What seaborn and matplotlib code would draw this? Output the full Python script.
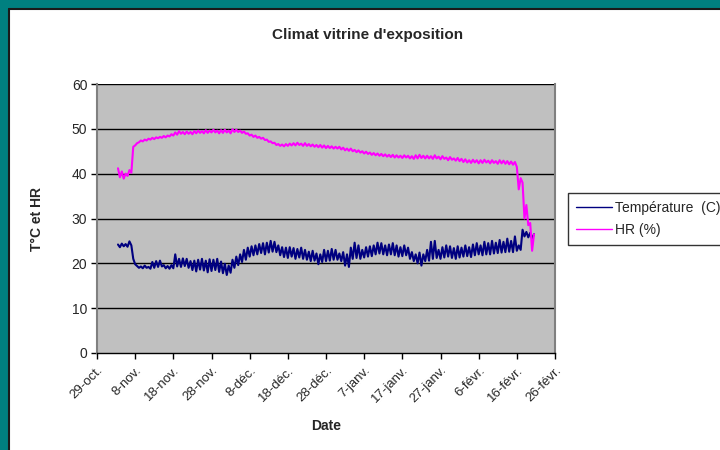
import numpy as np
import pandas as pd
import matplotlib
matplotlib.use("Agg")
import matplotlib.pyplot as plt
from matplotlib.patches import Rectangle
from matplotlib.lines import Line2D
import seaborn as sns

# ---------------- data ----------------
title = "Climat vitrine d'exposition"
series_names = ["Température  (C)", "HR (%)"]
start_time = "2006-11-03 12:00"   # first reading, then every 12 h
tick_labels = ["29-oct.", "8-nov.", "18-nov.", "28-nov.", "8-déc.", "18-déc.",
               "28-déc.", "7-janv.", "17-janv.", "27-janv.", "6-févr.",
               "16-févr.", "26-févr."]
tick_dates = ["2006-10-29", "2006-11-08", "2006-11-18", "2006-11-28",
              "2006-12-08", "2006-12-18", "2006-12-28", "2007-01-07",
              "2007-01-17", "2007-01-27", "2007-02-06", "2007-02-16",
              "2007-02-26"]

temperature = [
    24.2, 23.6, 24.4, 23.8, 24.3, 23.7, 24.9, 24.0, 21.0, 19.8,
    19.4, 19.0, 19.3, 18.9, 19.5, 19.0, 19.2, 18.8, 20.3, 19.0,
    20.5, 19.2, 20.6, 19.3, 19.6, 18.9, 19.4, 18.8, 19.6, 18.9,
    22.0, 19.3, 21.0, 19.2, 21.1, 19.4, 21.0, 19.0, 20.5, 18.5,
    20.6, 18.2, 20.8, 18.6, 21.0, 18.4, 20.6, 18.0, 20.9, 18.3,
    20.8, 18.5, 21.0, 18.1, 20.4, 17.8, 19.9, 17.4, 19.5, 17.9,
    20.8, 19.0, 21.5, 19.6, 22.0, 20.3, 23.0, 20.8, 23.5, 21.5,
    23.8, 21.8, 24.0, 22.0, 24.3, 22.3, 24.5, 22.0, 24.6, 22.4,
    25.0, 22.6, 24.8, 22.5, 24.0, 21.8, 23.6, 21.4, 23.5, 21.2,
    23.6, 21.5, 23.4, 21.0, 23.2, 21.3, 23.5, 21.0, 23.0, 20.8,
    22.6, 20.5, 22.8, 20.6, 22.2, 19.8, 22.0, 20.3, 23.0, 20.5,
    22.8, 20.6, 23.2, 20.8, 23.0, 20.8, 22.2, 20.5, 22.5, 19.5,
    22.0, 19.2, 23.5, 21.0, 24.6, 21.2, 24.0, 21.0, 23.0, 21.3,
    23.6, 21.5, 23.8, 21.6, 24.0, 22.0, 24.6, 22.2, 24.5, 22.0,
    24.0, 21.8, 24.2, 22.0, 24.5, 21.8, 24.0, 21.5, 23.6, 21.6,
    24.0, 21.8, 23.5, 21.0, 22.5, 20.5, 22.0, 20.0, 22.4, 19.5,
    22.0, 20.5, 23.0, 20.6, 24.8, 21.0, 25.0, 21.2, 23.0, 21.0,
    23.6, 21.3, 24.0, 21.5, 23.8, 21.2, 23.4, 21.0, 23.8, 21.3,
    23.5, 21.5, 24.0, 21.6, 23.6, 21.4, 24.2, 21.8, 24.5, 22.0,
    24.0, 21.8, 24.8, 22.0, 24.5, 22.0, 25.0, 22.2, 24.6, 22.3,
    25.2, 22.4, 24.8, 22.5, 25.5, 22.6, 25.0, 22.5, 26.0, 22.8,
    24.0, 23.0, 27.5, 26.0, 27.0, 25.8, 26.8, 25.5, 26.5,
]

humidity = [
    41.2, 39.2, 40.5, 38.9, 40.0, 39.5, 40.8, 40.2, 46.0, 46.3,
    46.8, 47.0, 47.4, 47.2, 47.6, 47.4, 47.8, 47.6, 48.0, 47.7,
    48.1, 47.9, 48.2, 48.0, 48.4, 48.1, 48.5, 48.3, 48.8, 48.5,
    49.2, 48.7, 49.5, 48.9, 49.3, 48.8, 49.4, 48.9, 49.3, 48.8,
    49.5, 49.0, 49.6, 49.1, 49.5, 49.0, 49.7, 49.1, 49.6, 49.2,
    49.8, 49.2, 49.6, 49.0, 49.7, 49.1, 49.8, 49.2, 49.6, 49.0,
    49.9, 49.3, 49.8, 49.3, 49.6, 49.1, 49.4, 48.9, 49.0, 48.5,
    48.7, 48.2, 48.5, 48.0, 48.2, 47.8, 48.0, 47.5, 47.6, 47.1,
    47.2, 46.8, 46.9, 46.4, 46.6, 46.2, 46.5, 46.1, 46.6, 46.2,
    46.7, 46.3, 46.8, 46.3, 46.9, 46.4, 46.7, 46.2, 46.8, 46.2,
    46.6, 46.1, 46.5, 46.0, 46.4, 45.9, 46.4, 45.8, 46.3, 45.7,
    46.2, 45.7, 46.1, 45.6, 46.0, 45.6, 46.0, 45.4, 45.8, 45.2,
    45.6, 45.1, 45.6, 45.0, 45.3, 44.8, 45.2, 44.7, 45.0, 44.5,
    44.9, 44.4, 44.7, 44.2, 44.6, 44.1, 44.5, 44.0, 44.4, 43.9,
    44.3, 43.8, 44.2, 43.7, 44.2, 43.6, 44.1, 43.6, 44.0, 43.5,
    44.1, 43.6, 44.0, 43.4, 43.9, 43.3, 44.1, 43.4, 44.2, 43.5,
    44.0, 43.4, 44.0, 43.4, 43.9, 43.3, 44.1, 43.4, 43.8, 43.2,
    43.9, 43.3, 43.6, 43.0, 43.7, 43.1, 43.4, 42.9, 43.5, 42.8,
    43.3, 42.6, 43.2, 42.5, 43.0, 42.4, 43.1, 42.5, 43.0, 42.3,
    43.0, 42.4, 43.1, 42.5, 42.9, 42.3, 43.0, 42.4, 42.8, 42.2,
    43.0, 42.3, 42.9, 42.2, 42.8, 42.1, 42.7, 42.0, 42.6, 41.5,
    36.5, 39.0, 38.0, 30.0, 33.0, 28.5, 29.0, 22.8, 26.5,
]

y_ticks = [0, 10, 20, 30, 40, 50, 60]

# ---------------- figure ----------------
sns.set_theme(style="white")
plt.rcParams["font.family"] = ["Liberation Sans", "DejaVu Sans"]

times = pd.date_range(start_time, periods=len(temperature), freq="12h")
df = pd.DataFrame({
    "Date": np.concatenate([times, times]),
    "value": temperature + humidity,
    "serie": [series_names[0]] * len(temperature) + [series_names[1]] * len(humidity),
})

fig = plt.figure(figsize=(7.2, 4.5), dpi=100)
fig.patch.set_facecolor("#008080")
fig.add_artist(Rectangle((8 / 720, 0), 1, 1 - 9 / 450, transform=fig.transFigure,
                         facecolor="white", edgecolor="none", zorder=0))
fig.add_artist(Line2D([8.5 / 720, 8.5 / 720], [0, 1 - 8.5 / 450], transform=fig.transFigure,
                      color="#1a1a1a", lw=1.5))
fig.add_artist(Line2D([8.5 / 720, 1], [1 - 8.5 / 450, 1 - 8.5 / 450], transform=fig.transFigure,
                      color="#1a1a1a", lw=1.5))

ax = fig.add_axes([97 / 720, 1 - 353 / 450, (555 - 97) / 720, (353 - 84) / 450])
ax.set_facecolor("#C0C0C0")

sns.lineplot(data=df, x="Date", y="value", hue="serie", ax=ax,
             palette={series_names[0]: "#000080", series_names[1]: "#FF00FF"},
             linewidth=1.5, estimator=None, sort=False, legend=False)

ax.set_ylim(0, 60)
ax.set_yticks(y_ticks)
ax.set_yticklabels([str(v) for v in y_ticks], fontsize=10)
for v in y_ticks[1:]:
    ax.axhline(v, color="black", lw=1.0, zorder=1)

td = pd.to_datetime(tick_dates)
ax.set_xlim(td[0], td[-1])
ax.set_xticks(td)
ax.set_xticklabels(tick_labels, rotation=45, ha="right", rotation_mode="anchor", fontsize=9.5)

ax.tick_params(axis="both", which="major", direction="out", length=4, width=1,
               color="black", bottom=True, left=True, pad=3)
ax.tick_params(axis="x", pad=4)

ax.spines["top"].set_visible(False)
ax.spines["left"].set_color("#808080")
ax.spines["left"].set_linewidth(1.5)
ax.spines["right"].set_color("#808080")
ax.spines["right"].set_linewidth(1.5)
ax.spines["bottom"].set_color("black")
ax.spines["bottom"].set_linewidth(1.0)

ax.set_xlabel("Date", fontsize=10, fontweight="bold", labelpad=10)
ax.set_ylabel("T°C et HR", fontsize=10, fontweight="bold", labelpad=20)
fig.text(368 / 720, 1 - 35 / 450, title, ha="center", va="center",
         fontsize=11, fontweight="bold")

handles = [Line2D([0], [0], color="#000080", lw=1.0),
           Line2D([0], [0], color="#FF00FF", lw=1.0)]
leg = fig.legend(handles, series_names, loc="upper left",
                 bbox_to_anchor=(568 / 720, 1 - 193 / 450),
                 frameon=True, fancybox=False, fontsize=10,
                 handlelength=2.6, handletextpad=0.2, borderpad=0.55,
                 labelspacing=0.6, borderaxespad=0)
leg.get_frame().set_edgecolor("black")
leg.get_frame().set_linewidth(1.0)
leg.get_frame().set_facecolor("white")

fig.savefig("out.png", dpi=100, facecolor=fig.get_facecolor())
